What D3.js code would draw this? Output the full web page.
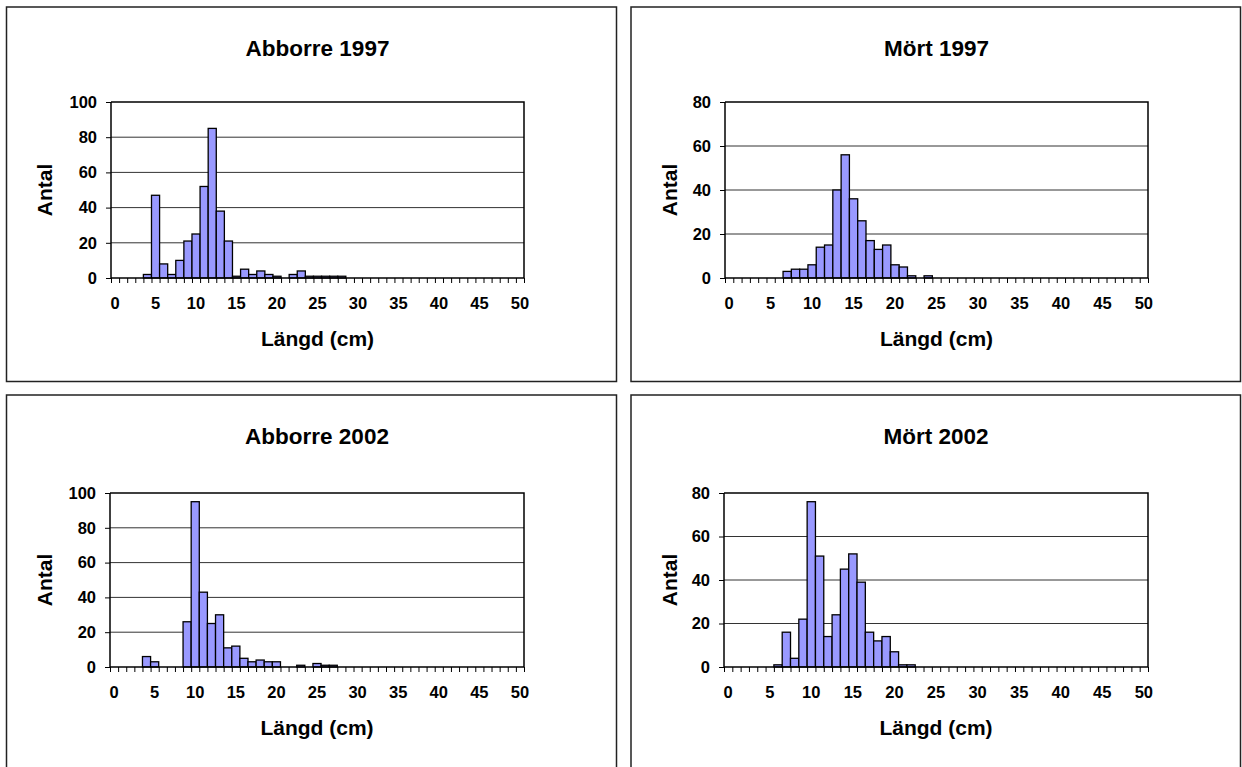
<!DOCTYPE html>
<html>
<head>
<meta charset="utf-8">
<script src="https://cdn.jsdelivr.net/npm/d3@7"></script>
<style>
  html, body { margin: 0; padding: 0; background: #fff; }
  svg { display: block; font-family: Arial, "Liberation Sans", sans-serif; }
</style>
</head>
<body>
<svg id="root" width="1242" height="767"></svg>
<script>
"use strict";

// length classes (cm), one bar per class
const lengths = d3.range(0, 51);
const xTickLabels = [0, 5, 10, 15, 20, 25, 30, 35, 40, 45, 50];

// counts per length class
const abborre1997 = [0, 0, 0, 0, 2, 47, 8, 2, 10, 21, 25, 52, 85, 38, 21, 1, 5, 2, 4, 2,
  1, 0, 2, 4, 1, 1, 1, 1, 1, 0, 0, 0, 0, 0, 0, 0, 0, 0, 0, 0,
  0, 0, 0, 0, 0, 0, 0, 0, 0, 0, 0];
const mort1997 = [0, 0, 0, 0, 0, 0, 0, 3, 4, 4, 6, 14, 15, 40, 56, 36, 26, 17, 13, 15,
  6, 5, 1, 0, 1, 0, 0, 0, 0, 0, 0, 0, 0, 0, 0, 0, 0, 0, 0, 0,
  0, 0, 0, 0, 0, 0, 0, 0, 0, 0, 0];
const abborre2002 = [0, 0, 0, 0, 6, 3, 0, 0, 0, 26, 95, 43, 25, 30, 11, 12, 5, 3, 4, 3,
  3, 0, 0, 1, 0, 2, 1, 1, 0, 0, 0, 0, 0, 0, 0, 0, 0, 0, 0, 0,
  0, 0, 0, 0, 0, 0, 0, 0, 0, 0, 0];
const mort2002 = [0, 0, 0, 0, 0, 0, 1, 16, 4, 22, 76, 51, 14, 24, 45, 52, 39, 16, 12, 14,
  7, 1, 1, 0, 0, 0, 0, 0, 0, 0, 0, 0, 0, 0, 0, 0, 0, 0, 0, 0,
  0, 0, 0, 0, 0, 0, 0, 0, 0, 0, 0];

const titles = ["Abborre 1997", "Mört 1997", "Abborre 2002", "Mört 2002"];
const yMaxes = [100, 80, 100, 80];
const xTitle = "Längd (cm)";
const yTitle = "Antal";

// frame + plot box for each panel (page coordinates)
const panels = [
  { frame: [6.5, 7, 610, 374.5], plot: [111, 102, 413, 176], values: abborre1997 },
  { frame: [631, 7, 609.5, 374.5], plot: [725, 102, 423, 176], values: mort1997 },
  { frame: [6.5, 395, 610, 380], plot: [110, 493, 414, 174], values: abborre2002 },
  { frame: [631, 395, 609.5, 380], plot: [724, 493, 424, 174], values: mort2002 },
];

const svg = d3.select("#root");

panels.forEach((p, i) => drawPanel(p, titles[i], yMaxes[i]));

function drawPanel(p, title, yMax) {
  const [fx, fy, fw, fh] = p.frame;
  const [px, py, pw, ph] = p.plot;

  // outer chart border
  svg
    .append("rect")
    .attr("x", fx)
    .attr("y", fy)
    .attr("width", fw)
    .attr("height", fh)
    .attr("fill", "white")
    .attr("stroke", "#222")
    .attr("stroke-width", 1.5);

  const g = svg.append("g").attr("transform", `translate(${px}, ${py})`);

  const x = d3.scaleBand().domain(lengths).range([0, pw]).padding(0);
  const xEdge = d3.scaleLinear().domain([0, lengths.length]).range([0, pw]);
  const y = d3.scaleLinear().domain([0, yMax]).range([ph, 0]);
  const yTicks = d3.range(0, yMax + 1, 20);

  // gridlines
  g.append("g")
    .selectAll("line")
    .data(yTicks.filter((d) => d > 0 && d < yMax))
    .join("line")
    .attr("x1", 0)
    .attr("x2", pw)
    .attr("y1", (d) => y(d))
    .attr("y2", (d) => y(d))
    .attr("stroke", "#333")
    .attr("stroke-width", 1);

  // bars
  const data = lengths.map((d, j) => ({ len: d, value: p.values[j] }));
  g.append("g")
    .selectAll("rect")
    .data(data.filter((d) => d.value > 0))
    .join("rect")
    .attr("x", (d) => x(d.len))
    .attr("y", (d) => y(d.value))
    .attr("width", x.bandwidth())
    .attr("height", (d) => y(0) - y(d.value))
    .attr("fill", "#9999ff")
    .attr("stroke", "#000")
    .attr("stroke-width", 1.3);

  // plot box (top and right edges)
  g.append("path")
    .attr("d", `M0,0H${pw}V${ph}`)
    .attr("fill", "none")
    .attr("stroke", "#000")
    .attr("stroke-width", 1.5);

  // y axis
  const yAxis = g
    .append("g")
    .call(d3.axisLeft(y).tickValues(yTicks).tickSize(5).tickPadding(9));
  yAxis.select(".domain").attr("stroke-width", 1.5).attr("d", `M0,0V${ph}`);
  yAxis
    .selectAll("text")
    .style("font-size", "16.5px")
    .style("font-weight", "bold")
    .attr("fill", "#000");

  // x axis: tick marks on class edges
  const xAxisEdges = g
    .append("g")
    .attr("transform", `translate(0, ${ph})`)
    .call(
      d3
        .axisBottom(xEdge)
        .tickValues(d3.range(0, lengths.length + 1))
        .tickSize(5)
        .tickFormat("")
    );
  xAxisEdges.select(".domain").attr("stroke-width", 1.5).attr("d", `M0,0H${pw}`);

  // x axis labels centered on the classes
  const xAxisLabels = g
    .append("g")
    .attr("transform", `translate(0, ${ph})`)
    .call(d3.axisBottom(x).tickValues(xTickLabels).tickSize(0).tickPadding(0));
  xAxisLabels.select(".domain").remove();
  xAxisLabels
    .selectAll("text")
    .attr("dy", null)
    .attr("y", 31)
    .style("font-size", "16.5px")
    .style("font-weight", "bold")
    .attr("fill", "#000");

  // titles
  svg
    .append("text")
    .attr("x", px + pw / 2)
    .attr("y", fy + 48.5)
    .attr("text-anchor", "middle")
    .style("font-size", "22.5px")
    .style("font-weight", "bold")
    .text(title);

  svg
    .append("text")
    .attr("x", px + pw / 2)
    .attr("y", py + ph + 68)
    .attr("text-anchor", "middle")
    .style("font-size", "21px")
    .style("font-weight", "bold")
    .text(xTitle);

  svg
    .append("text")
    .attr("transform", `translate(${fx + 45.5}, ${py + ph / 2}) rotate(-90)`)
    .attr("text-anchor", "middle")
    .style("font-size", "21px")
    .style("font-weight", "bold")
    .text(yTitle);
}
</script>
</body>
</html>
